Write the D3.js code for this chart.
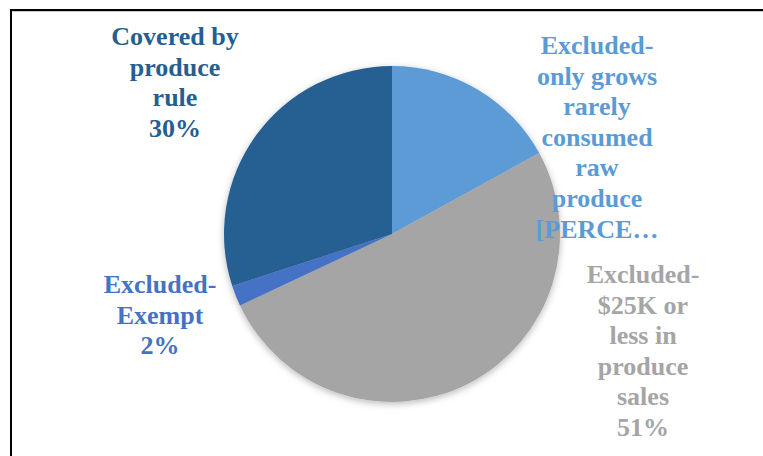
<!DOCTYPE html>
<html>
<head>
<meta charset="utf-8">
<script src="https://cdn.jsdelivr.net/npm/d3@7"></script>
<style>
  html, body { margin: 0; padding: 0; background: #fff; }
  svg { display: block; }
</style>
</head>
<body>
<svg id="chart" width="763" height="456"></svg>
<script>
// Produce-rule coverage of farms, share by category
const categories = [
  "Excluded-only grows rarely consumed raw produce",
  "Excluded-$25K or less in produce sales",
  "Excluded-Exempt",
  "Covered by produce rule"
];
const shares = [17, 51, 2, 30];
const sliceColors = ["#5B9BD5", "#A5A5A5", "#4472C4", "#255E91"];
const labelLines = [
  ["Excluded-", "only grows", "rarely", "consumed", "raw", "produce", "[PERCE\u2026"],
  ["Excluded-", "$25K or", "less in", "produce", "sales", "51%"],
  ["Excluded-", "Exempt", "2%"],
  ["Covered by", "produce", "rule", "30%"]
];

const W = 763, H = 456;
const cx = 392, cy = 234, R = 168;

const svg = d3.select("#chart");

// soft drop shadow under the pie
const defs = svg.append("defs");
const f = defs.append("filter").attr("id", "pieShadow")
  .attr("x", "-20%").attr("y", "-20%").attr("width", "140%").attr("height", "140%");
f.append("feDropShadow").attr("dx", 0).attr("dy", 2)
  .attr("stdDeviation", 3.5).attr("flood-color", "#000").attr("flood-opacity", 0.28);

// chart frame (only the top and left edges fall inside the view)
svg.append("path")
  .attr("d", `M11,${H + 5} L11,10 L${W + 5},10`)
  .attr("fill", "none").attr("stroke", "#000").attr("stroke-width", 2);
svg.append("line")
  .attr("x1", 12).attr("x2", W).attr("y1", 11.5).attr("y2", 11.5)
  .attr("stroke", "#c8c8c8").attr("stroke-width", 1);

const pie = d3.pie().sort(null).value(d => d)
  .startAngle(0).endAngle(2 * Math.PI);
const arc = d3.arc().innerRadius(0).outerRadius(R);
const arcs = pie(shares);

const g = svg.append("g").attr("transform", `translate(${cx},${cy})`);
const slices = g.append("g").attr("filter", "url(#pieShadow)");
slices.selectAll("path").data(arcs).join("path")
  .attr("d", arc)
  .attr("fill", (d, i) => sliceColors[i]);

// data labels: centre x and first-line baseline for each block
const labelPos = [
  { x: 597, y: 54 },
  { x: 643, y: 283 },
  { x: 160, y: 293 },
  { x: 175, y: 45 }
];
const lineH = 30.6;

const labels = svg.append("g")
  .attr("font-family", "'Liberation Serif', 'Times New Roman', serif")
  .attr("font-weight", "bold")
  .attr("font-size", 26)
  .attr("text-anchor", "middle");

labelLines.forEach((lines, i) => {
  const t = labels.append("text")
    .attr("fill", sliceColors[i])
    .attr("x", labelPos[i].x).attr("y", labelPos[i].y);
  lines.forEach((ln, j) => {
    t.append("tspan")
      .attr("x", labelPos[i].x)
      .attr("y", labelPos[i].y + j * lineH)
      .text(ln);
  });
});
</script>
</body>
</html>
